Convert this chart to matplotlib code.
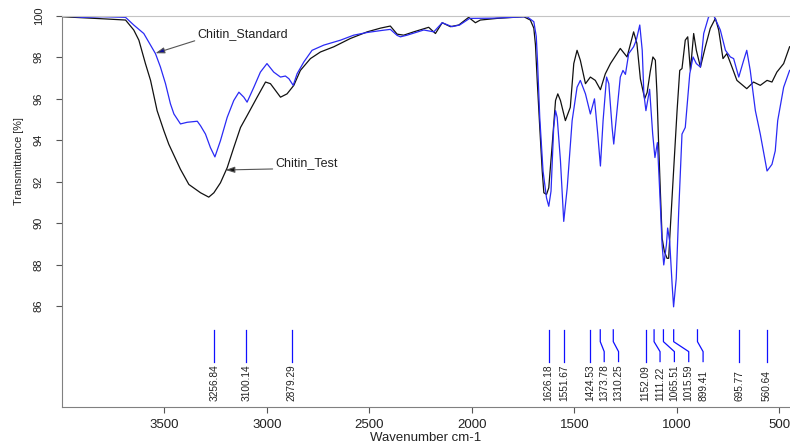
import matplotlib.pyplot as plt

plt.rcParams['font.family'] = ['Liberation Sans', 'DejaVu Sans']

# Chitin_Test spectrum (black)
test_wn = [3999, 3900, 3800, 3690, 3650, 3625, 3593, 3568, 3536, 3503, 3479, 3422,
           3381, 3324, 3284, 3259, 3227, 3194, 3162, 3129, 3097, 3048, 3007, 2983,
           2934, 2902, 2869, 2837, 2788, 2739, 2674, 2593, 2511, 2446, 2398, 2365,
           2333, 2284, 2211, 2178, 2145, 2105, 2064, 2016, 1983, 1959, 1877, 1747,
           1715, 1698, 1690, 1681, 1669, 1657, 1649, 1636, 1625, 1608, 1592, 1581,
           1568, 1544, 1520, 1503, 1487, 1471, 1446, 1422, 1398, 1373, 1349, 1324,
           1276, 1243, 1211, 1195, 1178, 1157, 1145, 1130, 1117, 1105, 1097, 1089,
           1080, 1072, 1061, 1048, 1040, 1032, 1016, 999, 986, 975, 959, 947, 934,
           918, 905, 885, 861, 837, 812, 796, 775, 756, 731, 707, 659, 626, 593,
           560, 536, 512, 479, 450]
test_t = [99.95, 99.90, 99.85, 99.79, 99.31, 98.82, 97.69, 96.88, 95.42, 94.45, 93.80, 92.59,
          91.86, 91.46, 91.25, 91.46, 91.94, 92.67, 93.64, 94.61, 95.18, 96.07, 96.80, 96.72,
          96.07, 96.23, 96.64, 97.36, 97.93, 98.25, 98.50, 98.90, 99.22, 99.40, 99.50, 99.11,
          99.06, 99.22, 99.44, 99.14, 99.66, 99.47, 99.55, 99.92, 99.66, 99.79, 99.87, 99.95,
          99.79, 99.40, 98.60, 96.80, 94.61, 92.51, 91.46, 91.38, 91.70, 93.81, 95.91, 96.23,
          95.91, 94.94, 95.58, 97.69, 98.33, 97.85, 96.72, 97.04, 96.88, 96.43, 97.20, 97.69,
          98.42, 98.01, 99.22, 98.66, 96.95, 96.00, 96.30, 97.30, 98.01, 97.85, 96.23, 93.81,
          91.38, 89.27, 88.63, 88.30, 88.30, 89.76, 92.51, 95.42, 97.36, 97.45, 98.82, 98.98, 97.36,
          99.14, 98.33, 97.52, 98.50, 99.39, 99.87, 99.31, 97.93, 98.17, 97.52, 96.88, 96.48, 96.80, 96.64,
          96.88, 96.80, 97.28, 97.69, 98.50]

# Chitin_Standard spectrum (blue)
std_wn = [3999, 3900, 3800, 3690, 3650, 3601, 3544, 3520, 3495, 3471, 3454, 3422,
          3389, 3340, 3324, 3300, 3276, 3254, 3227, 3194, 3162, 3137, 3113, 3097,
          3064, 3032, 3000, 2967, 2934, 2910, 2893, 2872, 2853, 2820, 2780, 2723,
          2641, 2577, 2511, 2446, 2398, 2365, 2349, 2316, 2235, 2186, 2145, 2097,
          2060, 2011, 1900, 1731, 1698, 1686, 1680, 1669, 1653, 1636, 1625, 1614,
          1601, 1592, 1584, 1568, 1552, 1535, 1511, 1487, 1471, 1446, 1422, 1402,
          1386, 1373, 1360, 1343, 1332, 1316, 1308, 1292, 1276, 1263, 1251, 1235,
          1211, 1198, 1181, 1169, 1161, 1151, 1133, 1118, 1107, 1095, 1084, 1072,
          1064, 1051, 1045, 1035, 1023, 1016, 1003, 991, 975, 959, 937, 921, 905,
          885, 869, 845, 820, 788, 763, 739, 723, 698, 674, 659, 642, 617, 593,
          560, 536, 520, 508, 479, 450]
std_t = [100.0, 99.92, 99.95, 99.92, 99.55, 99.14, 98.17, 97.53, 96.72, 95.75, 95.26, 94.78,
         94.86, 94.91, 94.69, 94.29, 93.64, 93.19, 93.97, 95.10, 95.91, 96.31, 96.07, 95.83,
         96.55, 97.28, 97.69, 97.28, 97.04, 97.09, 96.96, 96.64, 97.20, 97.77, 98.33, 98.58,
         98.82, 99.06, 99.19, 99.28, 99.34, 99.05, 98.98, 99.06, 99.31, 99.22, 99.66, 99.47,
         99.55, 99.87, 99.88, 99.95, 99.71, 99.00, 97.80, 95.10, 92.51, 91.21, 90.81, 91.54,
         94.61, 95.42, 95.10, 93.00, 90.08, 91.70, 94.94, 96.55, 96.88, 96.23, 95.26, 95.99,
         94.29, 92.75, 94.94, 97.04, 96.72, 94.61, 93.81, 95.42, 97.04, 97.36, 97.17, 98.17,
         98.50, 98.82, 99.55, 98.33, 96.23, 95.42, 96.45, 94.30, 93.16, 93.88, 91.60, 88.95,
         87.98, 88.95, 89.76, 89.11, 87.01, 85.96, 87.33, 90.57, 94.29, 94.61, 97.20, 98.01, 97.69,
         97.52, 99.14, 99.95, 100.0, 99.31, 98.33, 98.01, 97.93, 97.04, 97.85, 98.33, 97.36, 95.42, 94.29,
         92.51, 92.83, 93.48, 94.94, 96.55, 97.36]

# picked peaks (wavenumber cm-1)
peaks = [3256.84, 3100.14, 2879.29, 1626.18, 1551.67, 1424.53, 1373.78, 1310.25,
         1152.09, 1111.22, 1065.51, 1015.59, 899.41, 695.77, 560.64]

fig = plt.figure(figsize=(7.9, 4.43), dpi=100)
ax = fig.add_axes([0.0785, 0.0813, 0.9215, 0.8833])

ax.plot(test_wn, test_t, color='#111111', lw=0.9)
ax.plot(std_wn, std_t, color='#2a2af5', lw=0.9)

# peak markers, labels pushed apart so they do not overlap
gap = 70
prev = None
for p in peaks:
    lx = p if prev is None else min(p, prev - gap)
    prev = lx
    ax.plot([p, p, lx, lx], [84.85, 84.28, 83.80, 83.32], color='#1010ff', lw=0.9)
    ax.text(lx, 81.42, f"{p:.2f}", rotation=90, ha='center', va='bottom',
            fontsize=7.3, color='#222222')

ax.annotate('Chitin_Standard', xy=(3544, 98.19), xytext=(3339, 99.12),
            ha='left', va='center', fontsize=9, color='#222222',
            arrowprops=dict(arrowstyle='-|>,head_length=0.6,head_width=0.2',
                            ec='#555555', fc='#10109a', lw=0.8, relpos=(0, 0),
                            shrinkA=0, shrinkB=0))
ax.annotate('Chitin_Test', xy=(3202, 92.56), xytext=(2959, 92.90),
            ha='left', va='center', fontsize=9, color='#222222',
            arrowprops=dict(arrowstyle='-|>,head_length=0.6,head_width=0.2',
                            ec='#555555', fc='#111111', lw=0.8, relpos=(0, 0),
                            shrinkA=0, shrinkB=0))

ax.set_xlim(4000, 448)
ax.set_ylim(81.13, 100)
ax.set_xticks([3500, 3000, 2500, 2000, 1500, 1000, 500])
ax.set_yticks([86, 88, 90, 92, 94, 96, 98, 100])

ax.spines['right'].set_visible(False)
ax.spines['top'].set_color('#c4c4c4')
ax.spines['left'].set_color('#808080')
ax.spines['bottom'].set_color('#808080')
ax.tick_params(axis='both', length=4.5, width=0.8, color='#555555', labelcolor='#222222')
ax.tick_params(axis='x', labelsize=9.5, pad=4)
ax.tick_params(axis='y', labelsize=8, pad=8.5, labelrotation=90)
for lab in ax.get_yticklabels():
    lab.set_va('center')

ax.set_xlabel('Wavenumber cm-1', fontsize=9.5, color='#222222')
ax.xaxis.set_label_coords(0.5, -0.064)
ax.set_ylabel('Transmittance [%]', fontsize=7.8, color='#222222')
ax.yaxis.set_label_coords(-0.052, 0.629)

fig.savefig('out.png', dpi=100)
